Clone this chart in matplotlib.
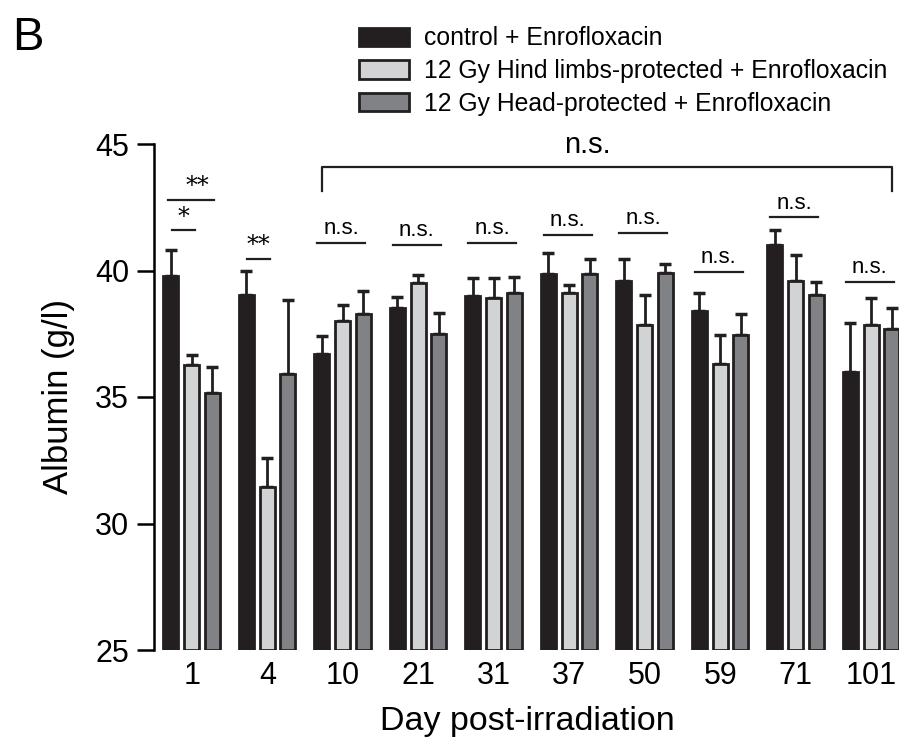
import matplotlib
matplotlib.use('Agg')
import matplotlib.pyplot as plt
import numpy as np

days = ['1', '4', '10', '21', '31', '37', '50', '59', '71', '101']
control = [39.8, 39.05, 36.7, 38.5, 39.0, 39.85, 39.6, 38.4, 41.0, 36.0]
control_err = [1.0, 0.95, 0.7, 0.45, 0.7, 0.85, 0.87, 0.7, 0.6, 1.94]
hind = [36.25, 31.45, 38.0, 39.5, 38.9, 39.1, 37.85, 36.3, 39.6, 37.85]
hind_err = [0.4, 1.15, 0.65, 0.32, 0.82, 0.33, 1.2, 1.15, 1.0, 1.05]
head = [35.15, 35.9, 38.3, 37.5, 39.1, 39.85, 39.9, 37.45, 39.05, 37.7]
head_err = [1.05, 2.95, 0.9, 0.83, 0.65, 0.6, 0.37, 0.85, 0.5, 0.8]
labels = ['control + Enrofloxacin',
          '12 Gy Hind limbs-protected + Enrofloxacin',
          '12 Gy Head-protected + Enrofloxacin']
colors = ['#231f20', '#d1d3d4', '#808285']

# n.s. line heights for days 10..101
ns_levels = [41.1, 41.0, 41.1, 41.4, 41.5, 39.95, 42.1, 39.55]

plt.rcParams['font.family'] = ['Liberation Sans', 'DejaVu Sans']

fig = plt.figure(figsize=(8.99, 7.41), dpi=100)
ax = fig.add_axes([154 / 899, 1 - 650 / 741, 747.5 / 899, 506 / 741])

x = np.arange(len(days))
offsets = [-0.28, 0.0, 0.27]
series = [(control, control_err), (hind, hind_err), (head, head_err)]
handles = []
for (vals, errs), off, col, lab in zip(series, offsets, colors, labels):
    vals = np.array(vals)
    h = ax.bar(x + off, vals - 25, bottom=25, width=0.2, color=col,
               edgecolor='#231f20', linewidth=2, label=lab, zorder=2)
    ax.errorbar(x + off, vals, yerr=[np.zeros(len(vals)), errs], fmt='none',
                ecolor='#231f20', elinewidth=2, capsize=4, capthick=2.5, zorder=1)
    handles.append(h)

ax.set_xlim(-0.5, 9.4)
ax.set_ylim(25, 45)
ax.set_yticks([25, 30, 35, 40, 45])
ax.set_xticks(x)
ax.set_xticklabels(days)
for s in ['top', 'right', 'bottom']:
    ax.spines[s].set_visible(False)
ax.spines['left'].set_linewidth(1.8)
ax.spines['left'].set_bounds(25, 45)
ax.tick_params(axis='y', length=12, width=1.8, labelsize=22, pad=6)
ax.tick_params(axis='x', length=0, labelsize=22, pad=8)
ax.set_ylabel('Albumin (g/l)', fontsize=25, labelpad=14)
ax.set_xlabel('Day post-irradiation', fontsize=24.5, labelpad=11)

lk = dict(color='#231f20', lw=1.6, clip_on=False)
# day 1 and day 4 significance
ax.plot([-0.28 - 0.03, 0.3], [42.8, 42.8], **lk)
ax.text(0.07, 42.85, '**', fontsize=17, ha='center', va='bottom', family='DejaVu Serif')
ax.plot([-0.26, 0.04], [41.6, 41.6], **lk)
ax.text(-0.11, 41.65, '*', fontsize=17, ha='center', va='bottom', family='DejaVu Serif')
ax.plot([1 - 0.27, 1 + 0.03], [40.47, 40.47], **lk)
ax.text(1 - 0.12, 40.52, '**', fontsize=17, ha='center', va='bottom', family='DejaVu Serif')

for i, lev in zip(range(2, 10), ns_levels):
    ax.plot([i - 0.34, i + 0.3], [lev, lev], **lk)
    ax.text(i - 0.02, lev + 0.15, 'n.s.', fontsize=16, ha='center', va='bottom')

# overall bracket
ax.plot([1.73, 1.73, 9.27, 9.27], [43.14, 44.08, 44.08, 43.14], **lk)
ax.text(5.24, 44.4, 'n.s.', fontsize=21, ha='center', va='bottom')

fig.legend(handles=handles, loc='upper left', bbox_to_anchor=(337 / 899, 1 - 4 / 741),
           frameon=False, fontsize=17.8, handlelength=2.0, handleheight=0.75,
           labelspacing=0.36, handletextpad=0.6)

fig.text(12 / 899, 1 - 50 / 741, 'B', fontsize=34)

fig.savefig('out.png', dpi=100)
